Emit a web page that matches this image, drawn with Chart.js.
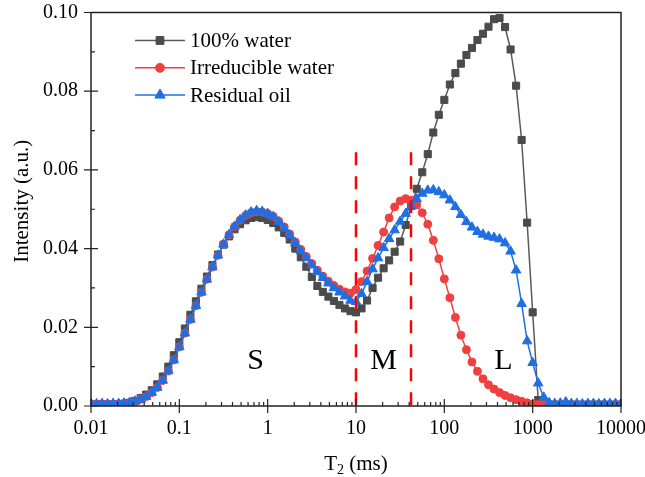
<!DOCTYPE html>
<html>
<head>
<meta charset="utf-8">
<script src="https://cdn.jsdelivr.net/npm/chart.js@4.4.1/dist/chart.umd.min.js"></script>
<style>
  html, body { margin: 0; padding: 0; background: #fff; }
  canvas { display: block; }
</style>
</head>
<body>
<canvas id="nmr" width="645" height="477"></canvas>
<script>
// T2 relaxation time (ms), log spaced
const t2 = [
  0.01, 0.01155, 0.01334, 0.0154, 0.01778, 0.02054, 0.02371, 0.02738, 0.03162, 0.03652, 0.04217, 0.0487, 0.05623, 0.06494, 0.07499, 0.0866,
  0.1, 0.1155, 0.1334, 0.154, 0.1778, 0.2054, 0.2371, 0.2738, 0.3162, 0.3652, 0.4217, 0.487, 0.5623, 0.6494, 0.7499, 0.866,
  1, 1.155, 1.334, 1.54, 1.778, 2.054, 2.371, 2.738, 3.162, 3.652, 4.217, 4.87, 5.623, 6.494, 7.499, 8.66,
  10, 11.55, 13.34, 15.4, 17.78, 20.54, 23.71, 27.38, 31.62, 36.52, 42.17, 48.7, 56.23, 64.94, 74.99, 86.6,
  100, 115.5, 133.4, 154, 177.8, 205.4, 237.1, 273.8, 316.2, 365.2, 421.7, 487, 562.3, 649.4, 749.9, 866,
  1000, 1155, 1334, 1540, 1778, 2054, 2371, 2738, 3162, 3652, 4217, 4870, 5623, 6494, 7499, 8660,
  10000
];

const water100 = [
  0.0004, 0.0004, 0.0004, 0.0004, 0.0004, 0.0005, 0.0006, 0.0008, 0.0013, 0.0020, 0.0029, 0.0040, 0.0055, 0.0075, 0.0100, 0.0129,
  0.0162, 0.0197, 0.0232, 0.0266, 0.0298, 0.0329, 0.0358, 0.0385, 0.0410, 0.0431, 0.0449, 0.0462, 0.0472, 0.0478, 0.0480, 0.0478,
  0.0473, 0.0465, 0.0454, 0.0440, 0.0423, 0.0400, 0.0378, 0.0354, 0.0328, 0.0305, 0.0290, 0.0278, 0.0267, 0.0257, 0.0248, 0.0241,
  0.0238, 0.0248, 0.0268, 0.0300, 0.0326, 0.0350, 0.0370, 0.0392, 0.0418, 0.0460, 0.0508, 0.0552, 0.0594, 0.0640, 0.0695, 0.0740,
  0.0778, 0.0817, 0.0846, 0.0870, 0.0892, 0.0910, 0.0930, 0.0946, 0.0964, 0.0983, 0.0986, 0.0963, 0.0906, 0.0814, 0.0676, 0.0466,
  0.0238, 0.0015, 0.0004, 0.0003, 0.0003, 0.0003, 0.0003, 0.0003, 0.0003, 0.0003, 0.0003, 0.0003, 0.0003, 0.0003, 0.0003, 0.0003,
  0.0003
];

const irreducibleWater = [
  0.0005, 0.0005, 0.0005, 0.0005, 0.0005, 0.0005, 0.0006, 0.0007, 0.0011, 0.0017, 0.0024, 0.0034, 0.0047, 0.0065, 0.0089, 0.0117,
  0.0150, 0.0185, 0.0220, 0.0255, 0.0289, 0.0322, 0.0353, 0.0383, 0.0411, 0.0435, 0.0456, 0.0472, 0.0484, 0.0491, 0.0494, 0.0493,
  0.0489, 0.0482, 0.0470, 0.0455, 0.0437, 0.0417, 0.0398, 0.0380, 0.0362, 0.0345, 0.0330, 0.0317, 0.0306, 0.0297, 0.0290, 0.0287,
  0.0296, 0.0316, 0.0343, 0.0375, 0.0408, 0.0442, 0.0478, 0.0506, 0.0521, 0.0527, 0.0523, 0.0511, 0.0491, 0.0462, 0.0421, 0.0374,
  0.0323, 0.0275, 0.0225, 0.0180, 0.0143, 0.0112, 0.0088, 0.0069, 0.0054, 0.0043, 0.0034, 0.0027, 0.0021, 0.0016, 0.0012, 0.0008,
  0.0005, 0.0004, 0.0004, 0.0004, 0.0004, 0.0004, 0.0004, 0.0004, 0.0004, 0.0004, 0.0004, 0.0004, 0.0004, 0.0004, 0.0004, 0.0004,
  0.0004
];

const residualOil = [
  0.0006, 0.0005, 0.0006, 0.0005, 0.0006, 0.0006, 0.0007, 0.0009, 0.0012, 0.0017, 0.0024, 0.0034, 0.0047, 0.0065, 0.0089, 0.0117,
  0.0150, 0.0185, 0.0220, 0.0255, 0.0289, 0.0322, 0.0353, 0.0383, 0.0411, 0.0435, 0.0456, 0.0473, 0.0485, 0.0493, 0.0496, 0.0494,
  0.0489, 0.0481, 0.0468, 0.0452, 0.0434, 0.0414, 0.0394, 0.0376, 0.0358, 0.0341, 0.0326, 0.0312, 0.0300, 0.0289, 0.0279, 0.0268,
  0.0265, 0.0285, 0.0316, 0.0348, 0.0376, 0.0402, 0.0425, 0.0447, 0.0469, 0.0489, 0.0508, 0.0526, 0.0540, 0.0548, 0.0549, 0.0544,
  0.0536, 0.0523, 0.0506, 0.0486, 0.0468, 0.0454, 0.0443, 0.0436, 0.0431, 0.0428, 0.0424, 0.0414, 0.0393, 0.0345, 0.0260, 0.0165,
  0.0110, 0.0058, 0.0022, 0.0008, 0.0006, 0.0007, 0.0010, 0.0006, 0.0006, 0.0005, 0.0006, 0.0006, 0.0005, 0.0006, 0.0006, 0.0006,
  0.0006
];

const xTickValues = [0.01, 0.1, 1, 10, 100, 1000, 10000];
const xTickLabels = ['0.01', '0.1', '1', '10', '100', '1000', '10000'];
const yTickValues = [0, 0.02, 0.04, 0.06, 0.08, 0.10];
const yTickLabels = ['0.00', '0.02', '0.04', '0.06', '0.08', '0.10'];

// S / M / L boundaries (ms) and zone labels
const cutoffs = [10, 42];
const cutoffTop = 0.0645;
const zoneNames = ['S', 'M', 'L'];
const zoneAt = [0.73, 20.5, 467];
const zoneY = 0.0114;

const SERIF = '"Liberation Serif", "Times New Roman", serif';

const toPoints = (ys) => t2.map((t, i) => ({ x: t, y: ys[i] }));

// stop Chart.js from reserving extra room for overflowing tick labels
const fixedFit = (size) => (scale) => {
    if (scale.isHorizontal()) scale.height = size; else scale.width = size;
    scale.paddingLeft = scale.paddingRight = scale.paddingTop = scale.paddingBottom = 0;
};

// axis box, inward minor ticks, crossing major ticks, cutoffs, legend, titles
const decorations = {
    id: 'decorations',
    afterDatasetsDraw(chart) {
        const { ctx, chartArea: a, scales: { x, y } } = chart;
        ctx.save();

        // dashed cutoff lines
        ctx.strokeStyle = '#ff0000';
        ctx.lineWidth = 2.5;
        ctx.setLineDash([13, 11]);
        cutoffs.forEach(v => {
            const px = Math.round(x.getPixelForValue(v));
            ctx.beginPath();
            ctx.moveTo(px, y.getPixelForValue(cutoffTop));
            ctx.lineTo(px, a.bottom);
            ctx.stroke();
        });
        ctx.setLineDash([]);

        // frame
        ctx.strokeStyle = '#222';
        ctx.lineWidth = 1.5;
        ctx.strokeRect(a.left, a.top, a.right - a.left, a.bottom - a.top);

        ctx.lineWidth = 1.2;
        ctx.beginPath();
        xTickValues.forEach((v, i) => {
            const px = x.getPixelForValue(v);
            ctx.moveTo(px, a.bottom - 7);
            ctx.lineTo(px, a.bottom + 7);
            if (i < xTickValues.length - 1) {
                for (let k = 2; k <= 9; k++) {
                    const mx = x.getPixelForValue(v * k);
                    ctx.moveTo(mx, a.bottom);
                    ctx.lineTo(mx, a.bottom - 4);
                }
            }
        });
        yTickValues.forEach((v, i) => {
            const py = y.getPixelForValue(v);
            ctx.moveTo(a.left - 7, py);
            ctx.lineTo(a.left + 7, py);
            if (i < yTickValues.length - 1) {
                const my = y.getPixelForValue(v + 0.01);
                ctx.moveTo(a.left, my);
                ctx.lineTo(a.left + 4, my);
            }
        });
        ctx.stroke();

        // zone letters
        ctx.fillStyle = '#000';
        ctx.font = '30px ' + SERIF;
        ctx.textAlign = 'center';
        ctx.textBaseline = 'middle';
        zoneNames.forEach((n, i) => {
            ctx.fillText(n, x.getPixelForValue(zoneAt[i]), y.getPixelForValue(zoneY));
        });

        // legend
        ctx.font = '21px ' + SERIF;
        ctx.textAlign = 'left';
        chart.data.datasets.forEach((ds, i) => {
            const ly = 40.5 + i * 27.3;
            ctx.strokeStyle = ds.borderColor;
            ctx.lineWidth = 1.5;
            ctx.beginPath();
            ctx.moveTo(135, ly);
            ctx.lineTo(185, ly);
            ctx.stroke();
            ctx.fillStyle = ds.pointBackgroundColor;
            ctx.strokeStyle = ds.pointBorderColor;
            ctx.lineWidth = 1;
            Chart.helpers.drawPoint(ctx, {
                pointStyle: ds.pointStyle, radius: ds.pointRadius + 0.5, rotation: 0, borderWidth: 1
            }, 160, ly);
            ctx.fillStyle = '#000';
            ctx.fillText(ds.label, 190, ly + 1);
        });

        // axis titles
        ctx.fillStyle = '#000';
        ctx.font = '21px ' + SERIF;
        ctx.save();
        ctx.translate(22, (a.top + a.bottom) / 2 - 8);
        ctx.rotate(-Math.PI / 2);
        ctx.textAlign = 'center';
        ctx.fillText('Intensity (a.u.)', 0, 0);
        ctx.restore();

        const cx = (a.left + a.right) / 2;
        const by = 470;
        ctx.textBaseline = 'alphabetic';
        const wT = ctx.measureText('T').width;
        ctx.font = '14px ' + SERIF;
        const w2 = ctx.measureText('2').width;
        ctx.font = '21px ' + SERIF;
        const wRest = ctx.measureText(' (ms)').width;
        let sx = cx - (wT + w2 + wRest) / 2;
        ctx.textAlign = 'left';
        ctx.fillText('T', sx, by);
        ctx.font = '14px ' + SERIF;
        ctx.fillText('2', sx + wT, by + 4);
        ctx.font = '21px ' + SERIF;
        ctx.fillText(' (ms)', sx + wT + w2, by);

        ctx.restore();
    }
};

const series = (label, ys, color, lineColor, style, radius, order) => ({
    label,
    data: toPoints(ys),
    borderColor: lineColor,
    borderWidth: 1.5,
    pointStyle: style,
    pointRadius: radius,
    pointBackgroundColor: color,
    pointBorderColor: color,
    pointBorderWidth: 1,
    tension: 0,
    order
});

new Chart(document.getElementById('nmr'), {
    type: 'line',
    data: {
        datasets: [
            series('100% water', water100, '#4b4b4b', '#5a5a5a', 'rect', 5, 3),
            series('Irreducible water', irreducibleWater, '#ef4040', '#ef4040', 'circle', 4, 2),
            series('Residual oil', residualOil, '#1f6fe3', '#1f6fe3', 'triangle', 5.5, 1)
        ]
    },
    options: {
        responsive: false,
        animation: false,
        devicePixelRatio: 1,
        layout: { padding: { left: 0, right: 24, top: 12.5, bottom: 0 } },
        plugins: { legend: { display: false }, tooltip: { enabled: false } },
        scales: {
            x: {
                type: 'logarithmic',
                min: 0.01,
                max: 10000,
                grid: { display: false, drawTicks: false },
                border: { display: false },
                afterBuildTicks: (scale) => { scale.ticks = xTickValues.map(v => ({ value: v })); },
                afterFit: fixedFit(71),
                ticks: {
                    autoSkip: false,
                    maxRotation: 0,
                    padding: 11,
                    color: '#000',
                    font: { family: SERIF, size: 20 },
                    callback: (v, i) => xTickLabels[i]
                }
            },
            y: {
                min: 0,
                max: 0.1,
                grid: { display: false, drawTicks: false },
                border: { display: false },
                afterBuildTicks: (scale) => { scale.ticks = yTickValues.map(v => ({ value: v })); },
                afterFit: fixedFit(91),
                ticks: {
                    padding: 13,
                    color: '#000',
                    font: { family: SERIF, size: 20 },
                    callback: (v, i) => yTickLabels[i]
                }
            }
        }
    },
    plugins: [decorations]
});
</script>
</body>
</html>
